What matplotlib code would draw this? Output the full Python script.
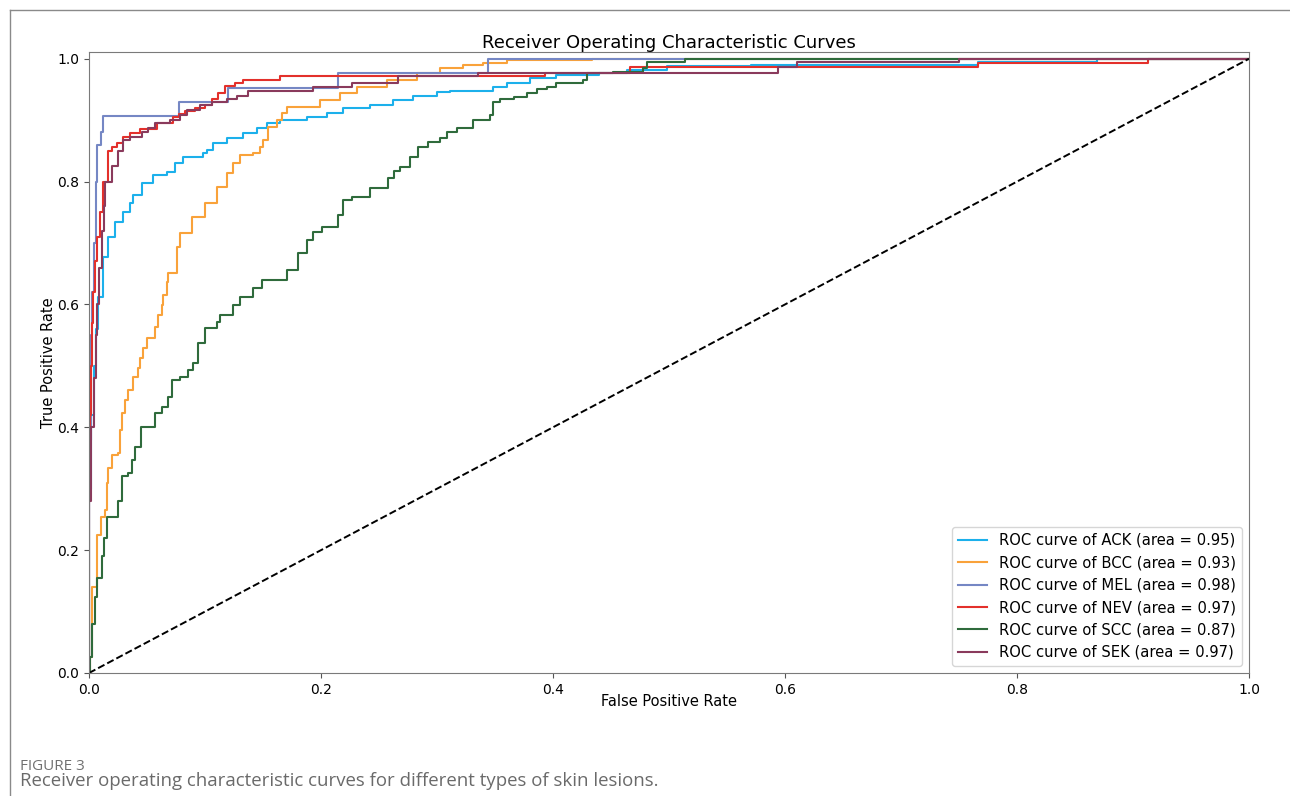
"""
ROC curves for six skin lesion classes (Figure 3 recreation)
"""
import matplotlib
matplotlib.use('Agg')
import matplotlib.pyplot as plt
from matplotlib.lines import Line2D

plt.rcParams['font.family'] = ['DejaVu Sans']

# ── Data ──────────────────────────────────────────────────
# each point: at this FPR the curve rises to this TPR
ack_fpr = [0, 0.000, 0.002, 0.004, 0.006, 0.0078, 0.012, 0.0164, 0.0224, 0.0293,
           0.0353, 0.038, 0.0457, 0.0552, 0.0672, 0.0741, 0.081, 0.0983, 0.1017,
           0.1069, 0.119, 0.1328, 0.1448, 0.1534, 0.1647, 0.188, 0.205, 0.219,
           0.242, 0.262, 0.279, 0.300, 0.311, 0.348, 0.360, 0.380, 0.403, 0.440,
           0.464, 0.498, 0.571, 0.766, 0.869, 1.0]
ack_tpr = [0, 0.30, 0.42, 0.50, 0.56, 0.612, 0.678, 0.71, 0.735, 0.75,
           0.765, 0.778, 0.798, 0.81, 0.816, 0.83, 0.84, 0.847, 0.852,
           0.863, 0.871, 0.879, 0.887, 0.896, 0.90, 0.905, 0.912, 0.92,
           0.925, 0.933, 0.94, 0.946, 0.948, 0.954, 0.961, 0.969, 0.974, 0.977,
           0.982, 0.988, 0.990, 0.995, 1.0, 1.0]

bcc_fpr = [0, 0.0009, 0.0026, 0.0069, 0.0103, 0.0138, 0.0155, 0.0164, 0.0198,
           0.025, 0.0267, 0.0284, 0.031, 0.0336, 0.0379, 0.0422, 0.044, 0.0466,
           0.05, 0.0569, 0.0595, 0.0629, 0.0638, 0.0672, 0.0681, 0.0759, 0.0784,
           0.0888, 0.100, 0.110, 0.119, 0.124, 0.130, 0.141, 0.147, 0.150,
           0.154, 0.162, 0.166, 0.171, 0.199, 0.216, 0.231, 0.257, 0.283, 0.303,
           0.322, 0.340, 0.360, 0.434, 1.0]
bcc_tpr = [0, 0.026, 0.14, 0.225, 0.254, 0.265, 0.31, 0.334, 0.355,
           0.358, 0.396, 0.423, 0.445, 0.461, 0.482, 0.497, 0.513, 0.529,
           0.546, 0.564, 0.583, 0.599, 0.616, 0.637, 0.651, 0.694, 0.717,
           0.743, 0.765, 0.792, 0.814, 0.83, 0.844, 0.847, 0.857, 0.868,
           0.889, 0.90, 0.912, 0.922, 0.933, 0.944, 0.954, 0.966, 0.977, 0.985,
           0.99, 0.993, 0.998, 1.0, 1.0]

mel_fpr = [0, 0.000, 0.001, 0.002, 0.003, 0.004, 0.006, 0.007, 0.010, 0.012,
           0.078, 0.120, 0.215, 0.344, 1.0]
mel_tpr = [0, 0.30, 0.38, 0.55, 0.62, 0.70, 0.80, 0.86, 0.88, 0.907,
           0.930, 0.953, 0.977, 1.0, 1.0]

nev_fpr = [0, 0.000, 0.001, 0.002, 0.003, 0.0035, 0.005, 0.007, 0.0095, 0.012,
           0.016, 0.020, 0.024, 0.029, 0.035, 0.044, 0.059, 0.072, 0.078, 0.083,
           0.091, 0.100, 0.106, 0.111, 0.117, 0.126, 0.133, 0.165, 0.393, 0.466,
           0.766, 0.913, 1.0]
nev_tpr = [0, 0.28, 0.42, 0.50, 0.57, 0.62, 0.67, 0.71, 0.75, 0.80,
           0.85, 0.857, 0.863, 0.873, 0.879, 0.886, 0.895, 0.905, 0.91, 0.915,
           0.92, 0.925, 0.935, 0.945, 0.955, 0.96, 0.966, 0.972, 0.977, 0.987,
           0.993, 1.0, 1.0]

scc_fpr = [0, 0.0009, 0.0026, 0.0052, 0.0069, 0.0112, 0.0129, 0.0155, 0.025,
           0.0284, 0.0336, 0.0371, 0.0397, 0.0448, 0.0569, 0.0629, 0.0681, 0.0716,
           0.0784, 0.0853, 0.0897, 0.094, 0.100, 0.110, 0.113, 0.124, 0.130,
           0.141, 0.149, 0.171, 0.180, 0.188, 0.193, 0.201, 0.215, 0.219, 0.227,
           0.242, 0.258, 0.263, 0.268, 0.277, 0.284, 0.292, 0.303, 0.309, 0.317,
           0.331, 0.346, 0.348, 0.354, 0.366, 0.378, 0.386, 0.395, 0.403, 0.426,
           0.429, 0.452, 0.478, 0.481, 0.514, 1.0]
scc_tpr = [0, 0.026, 0.08, 0.124, 0.155, 0.19, 0.22, 0.254, 0.28,
           0.32, 0.325, 0.347, 0.368, 0.40, 0.423, 0.433, 0.45, 0.477,
           0.482, 0.493, 0.505, 0.537, 0.562, 0.572, 0.583, 0.599, 0.612,
           0.627, 0.64, 0.656, 0.684, 0.705, 0.718, 0.726, 0.745, 0.77, 0.775,
           0.79, 0.806, 0.817, 0.824, 0.84, 0.857, 0.864, 0.871, 0.881, 0.887,
           0.90, 0.909, 0.93, 0.935, 0.938, 0.944, 0.95, 0.954, 0.961, 0.966,
           0.977, 0.979, 0.985, 0.995, 1.0, 1.0]

sek_fpr = [0, 0.000, 0.002, 0.004, 0.006, 0.007, 0.009, 0.011, 0.0125, 0.0138,
           0.0198, 0.025, 0.0293, 0.0353, 0.0457, 0.0509, 0.0569, 0.0698, 0.0784,
           0.0845, 0.0957, 0.106, 0.119, 0.128, 0.137, 0.193, 0.227, 0.266,
           0.335, 0.594, 0.610, 0.750, 1.0]
sek_tpr = [0, 0.28, 0.40, 0.48, 0.55, 0.60, 0.66, 0.72, 0.76, 0.80,
           0.825, 0.85, 0.868, 0.873, 0.88, 0.887, 0.896, 0.90, 0.909,
           0.917, 0.925, 0.93, 0.935, 0.94, 0.948, 0.954, 0.96, 0.972,
           0.977, 0.987, 0.995, 1.0, 1.0]

class_names = ['ACK', 'BCC', 'MEL', 'NEV', 'SCC', 'SEK']
class_auc = [0.95, 0.93, 0.98, 0.97, 0.87, 0.97]
curves = [(ack_fpr, ack_tpr), (bcc_fpr, bcc_tpr), (mel_fpr, mel_tpr),
          (nev_fpr, nev_tpr), (scc_fpr, scc_tpr), (sek_fpr, sek_tpr)]
colors = ['#1cb0eb', '#f9a23a', '#7587c4', '#e3302b', '#2f6b3c', '#8a3a5c']

# ── Figure ────────────────────────────────────────────────
fig = plt.figure(figsize=(12.9, 7.96), dpi=100)
fig.patch.set_facecolor('white')
ax = fig.add_axes([89 / 1290, 123 / 796, 1160 / 1290, 621 / 796])

for (fpr, tpr), name, auc, c in zip(curves, class_names, class_auc, colors):
    ax.plot(fpr, tpr, drawstyle='steps-post', color=c, lw=1.5,
            label=f'ROC curve of {name} (area = {auc:.2f})')

ax.plot([0, 1], [0, 1], 'k--', lw=1.4)

ax.set_xlim(0.0, 1.0)
ax.set_ylim(0.0, 1.011)
ax.set_xlabel('False Positive Rate', fontsize=10.5)
ax.set_ylabel('True Positive Rate', fontsize=10.5)
ax.xaxis.set_label_coords(0.5, -(702 - 673) / 621)
ax.yaxis.set_label_coords((48 - 89) / 1160, 0.5)
ax.xaxis.label.set_va('center')
ax.yaxis.label.set_va('center')
ax.set_title('Receiver Operating Characteristic Curves', fontsize=13, pad=3)
ax.tick_params(labelsize=10, color='#555555')
for s in ax.spines.values():
    s.set_color('#7a7a7a')
ax.legend(loc='lower right', fontsize=10.6)

# page frame + caption
fig.add_artist(Line2D([9.5 / 1290, 9.5 / 1290], [0, 1 - 9.5 / 796],
                      color='#8a8a8a', lw=1))
fig.add_artist(Line2D([9.5 / 1290, 1], [1 - 9.5 / 796, 1 - 9.5 / 796],
                      color='#8a8a8a', lw=1))
fig.text(20 / 1290, 1 - 766 / 796, 'FIGURE 3', fontsize=11, color='#707070',
         family=['Open Sans', 'DejaVu Sans'], va='center', ha='left')
fig.text(20 / 1290, 1 - 781 / 796,
         'Receiver operating characteristic curves for different types of skin lesions.',
         fontsize=13.4, color='#6a6a6a', family=['Open Sans', 'DejaVu Sans'],
         va='center', ha='left')

fig.savefig('out.png', dpi=100, facecolor='white')
plt.close(fig)
